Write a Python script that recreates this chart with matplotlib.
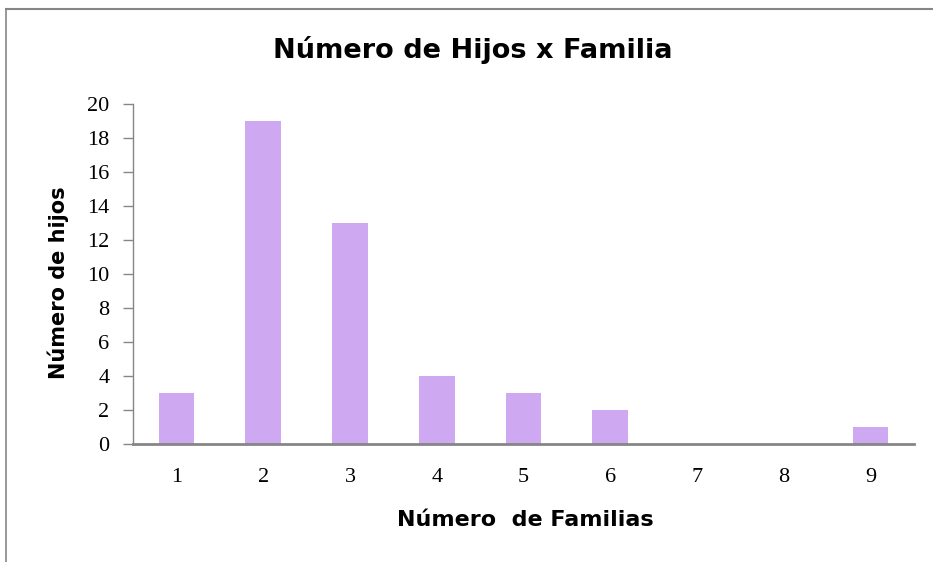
import numpy as np
import matplotlib.pyplot as plt
from matplotlib.lines import Line2D

familias = ["1", "2", "3", "4", "5", "6", "7", "8", "9"]
hijos = [3, 19, 13, 4, 3, 2, 0, 0, 1]
yticks = [0, 2, 4, 6, 8, 10, 12, 14, 16, 18, 20]

W, H = 933, 562
fig = plt.figure(figsize=(W / 100, H / 100), dpi=100)
ax = fig.add_axes([133 / W, 1 - 444 / H, (914 - 133) / W, (444 - 104) / H])

x = np.arange(len(familias))
ax.bar(x, hijos, width=0.41, color="#CFA8F2", zorder=2)

ax.set_xlim(-0.5, len(familias) - 0.5)
ax.set_ylim(0, 20)
ax.set_xticks(x)
ax.set_xticklabels(familias)
ax.set_yticks(yticks)

axis_grey = "#868686"
for side in ["top", "right"]:
    ax.spines[side].set_visible(False)
ax.spines["left"].set_color(axis_grey)
ax.spines["bottom"].set_color(axis_grey)
ax.spines["left"].set_linewidth(1.0)
ax.spines["bottom"].set_linewidth(2.0)

serif = ["Liberation Serif", "DejaVu Serif"]
ax.tick_params(axis="y", length=7, width=1, color=axis_grey, pad=10)
ax.tick_params(axis="x", length=0, pad=17)
for lab in ax.get_xticklabels() + ax.get_yticklabels():
    lab.set_fontfamily(serif)
    lab.set_fontsize(16)

label_font = dict(family="DejaVu Sans", weight="bold", color="black")
fig.text(473 / W, 1 - 50 / H, "Número de Hijos x Familia", ha="center", va="center",
         fontsize=19.5, **label_font)
fig.text(525 / W, 1 - 520 / H, "Número  de Familias", ha="center", va="center",
         fontsize=16, **label_font)
fig.text(58 / W, 1 - 283 / H, "Número de hijos", ha="center", va="center",
         rotation=90, fontsize=15, **label_font)

# chart area frame
fig.add_artist(Line2D([6 / W, 6 / W], [0, 1 - 8.5 / H], transform=fig.transFigure,
                      color=axis_grey, lw=1.2))
fig.add_artist(Line2D([6 / W, 1], [1 - 8.5 / H, 1 - 8.5 / H], transform=fig.transFigure,
                      color=axis_grey, lw=1.5))

fig.savefig("out.png", dpi=100)
